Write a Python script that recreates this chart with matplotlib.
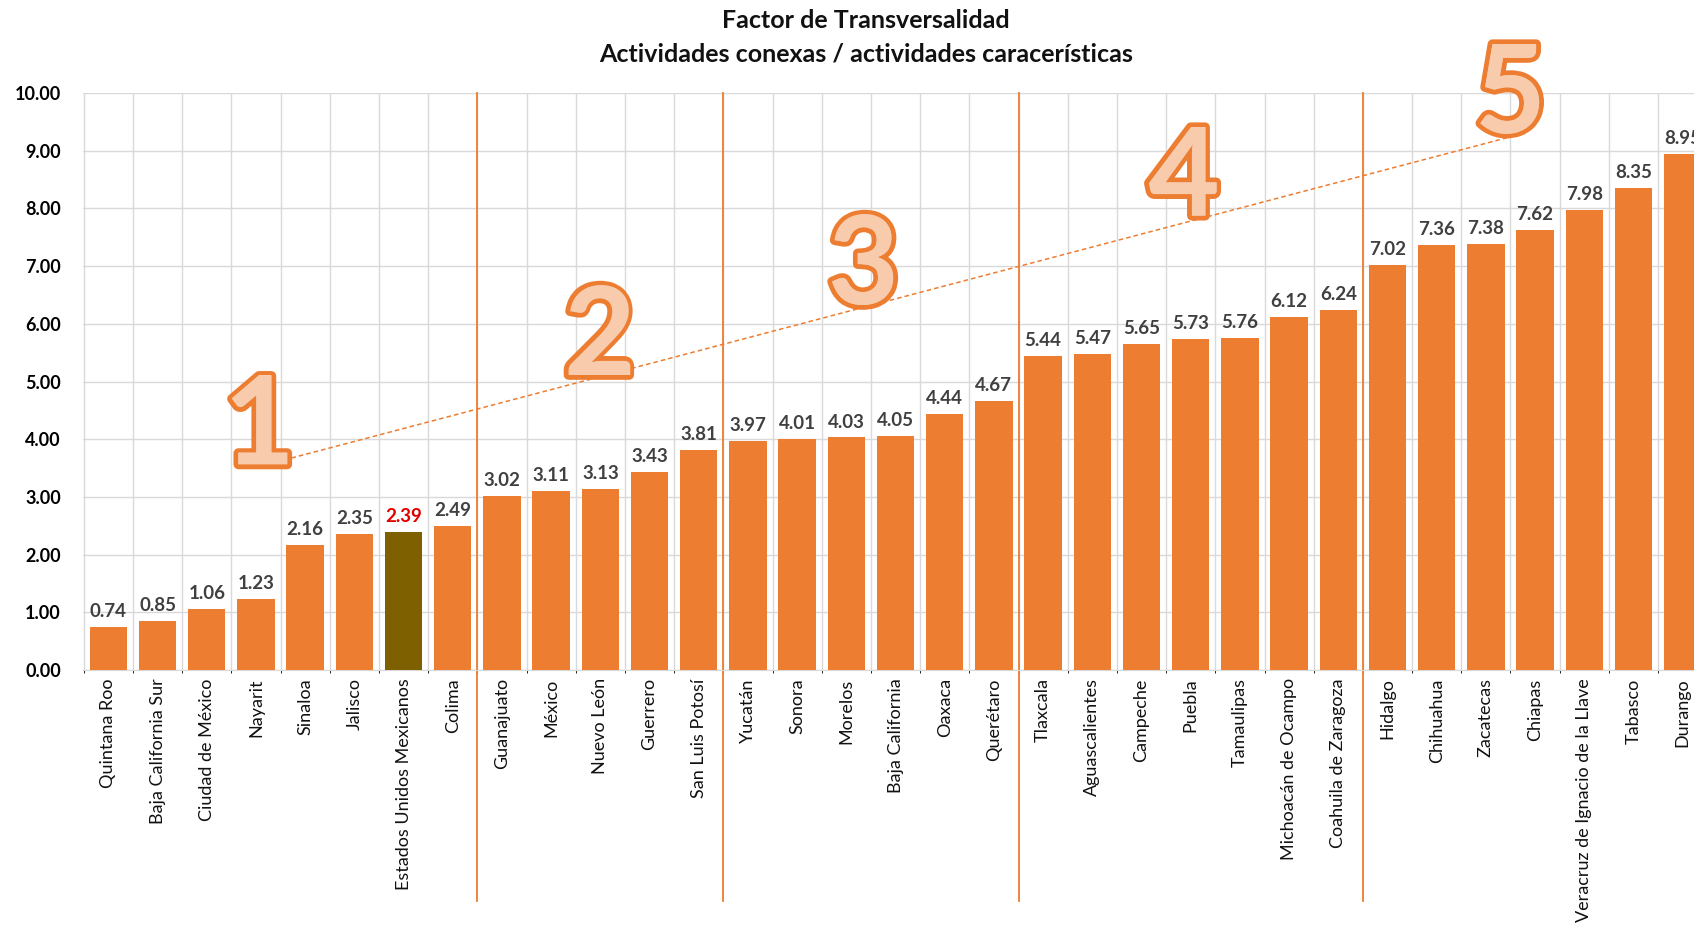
import matplotlib.pyplot as plt
import matplotlib.patheffects as pe

estados = ['Quintana Roo', 'Baja California Sur', 'Ciudad de México', 'Nayarit', 'Sinaloa',
           'Jalisco', 'Estados Unidos Mexicanos', 'Colima', 'Guanajuato', 'México',
           'Nuevo León', 'Guerrero', 'San Luis Potosí', 'Yucatán', 'Sonora', 'Morelos',
           'Baja California', 'Oaxaca', 'Querétaro', 'Tlaxcala', 'Aguascalientes',
           'Campeche', 'Puebla', 'Tamaulipas', 'Michoacán de Ocampo', 'Coahuila de Zaragoza',
           'Hidalgo', 'Chihuahua', 'Zacatecas', 'Chiapas', 'Veracruz de Ignacio de la Llave',
           'Tabasco', 'Durango']
factor = [0.74, 0.85, 1.06, 1.23, 2.16, 2.35, 2.39, 2.49, 3.02, 3.11, 3.13, 3.43, 3.81,
          3.97, 4.01, 4.03, 4.05, 4.44, 4.67, 5.44, 5.47, 5.65, 5.73, 5.76, 6.12, 6.24,
          7.02, 7.36, 7.38, 7.62, 7.98, 8.35, 8.95]
nacional = 'Estados Unidos Mexicanos'
# group separators (between categories) and group numbers
separadores = [7.5, 12.5, 18.5, 25.5]
grupos = ['1', '2', '3', '4', '5']
grupo_pos = [(3.07, 4.17), (9.98, 5.72), (15.35, 6.95), (21.86, 8.48), (28.5, 9.92)]
tendencia_x = [3.57, 28.5]
tendencia_y = [3.64, 9.24]

naranja = '#ED7D31'
plt.rcParams['font.family'] = ['Lato', 'DejaVu Sans']

fig = plt.figure(figsize=(16.94, 9.27), dpi=100)
ax = fig.add_axes([0.049, 0.2772, 0.951, 0.6225])

x = list(range(len(estados)))
colores = ['#7F6000' if e == nacional else naranja for e in estados]
ax.bar(x, factor, width=0.76, color=colores, zorder=3)

for xi, v, e in zip(x, factor, estados):
    ax.annotate(f'{v:.2f}', (xi, v), xytext=(0, 5), textcoords='offset points',
                ha='center', va='bottom', fontsize=13.5, fontweight='bold',
                color='#E00000' if e == nacional else '#404040', zorder=4)

ax.set_yticks(range(11))
ax.set_yticklabels([f'{i:.2f}' for i in range(11)], fontsize=13, fontweight='bold')
ax.set_xticks(x)
ax.set_xticklabels(estados, rotation=90, fontsize=13, color='#111111')
ax.tick_params(length=0, pad=6)
ax.tick_params(axis='y', pad=16)

# light grid: horizontal at each unit, vertical at each category boundary
ax.set_xticks([i + 0.5 for i in range(-1, len(estados))], minor=True)
ax.grid(axis='y', color='#D9D9D9', linewidth=1, zorder=0)
ax.grid(axis='x', which='minor', color='#D9D9D9', linewidth=1, zorder=0)
ax.set_xlim(-0.516, 32.23)
ax.set_ylim(0, 10)
for s in ['top', 'right', 'left']:
    ax.spines[s].set_visible(False)
ax.spines['bottom'].set_color('#D9D9D9')

for sx in separadores:
    ax.plot([sx, sx], [10, -4.0], color=naranja, linewidth=1.3, clip_on=False, zorder=2)

ax.plot(tendencia_x, tendencia_y, color=naranja, linestyle=(0, (3, 2)), linewidth=1.1,
        zorder=5, clip_on=False)

for g, (gx, gy) in zip(grupos, grupo_pos):
    ax.text(gx, gy, g, ha='center', va='center', fontsize=88, fontweight='bold',
            color='#F8CBAD', zorder=6, clip_on=False,
            path_effects=[pe.withStroke(linewidth=7, foreground=naranja)])
    ax.text(gx, gy, g, ha='center', va='center', fontsize=88, fontweight='bold',
            color='#F8CBAD', zorder=6, clip_on=False)

fig.text(0.511, 0.978, 'Factor de Transversalidad', ha='center', va='center',
         fontsize=18, fontweight='bold', color='#111111')
fig.text(0.511, 0.942, 'Actividades conexas / actividades caracerísticas', ha='center',
         va='center', fontsize=18, fontweight='bold', color='#111111')

fig.savefig('out.png', dpi=100)
